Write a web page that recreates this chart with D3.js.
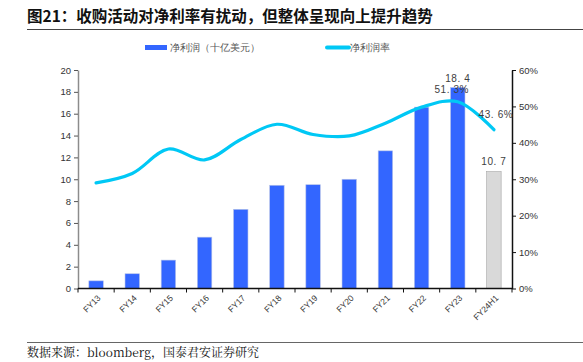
<!DOCTYPE html>
<html>
<head>
<meta charset="utf-8">
<script src="https://cdn.jsdelivr.net/npm/d3@7"></script>
<style>
  body { margin: 0; background: #fff; }
  text { font-family: "Liberation Sans", Arial, sans-serif; }
</style>
</head>
<body>
<script>
// categories and values
const categories = ["FY13", "FY14", "FY15", "FY16", "FY17", "FY18", "FY19", "FY20", "FY21", "FY22", "FY23", "FY24H1"];
const netProfit = [0.7, 1.35, 2.6, 4.7, 7.25, 9.45, 9.5, 10.0, 12.6, 16.6, 18.4, 10.7];
const netMargin = [29.0, 31.6, 38.3, 35.3, 40.9, 45.1, 42.3, 41.9, 45.4, 49.8, 51.3, 43.6];
const leftTicks = [0, 2, 4, 6, 8, 10, 12, 14, 16, 18, 20];
const rightTicks = [0, 10, 20, 30, 40, 50, 60];

const W = 583, H = 362;
const plotLeft = 78, plotRight = 512, plotTop = 70, plotBottom = 288.5;

const svg = d3.select("body").append("svg")
  .attr("width", W)
  .attr("height", H);

// titre + lignes
svg.append("text")
  .attr("x", 27).attr("y", 22)
  .style("font-family", "'Noto Sans CJK SC', sans-serif")
  .style("font-weight", "bold")
  .style("font-size", "15.5px")
  .attr("fill", "#111")
  .text("图21：收购活动对净利率有扰动，但整体呈现向上提升趋势");

svg.append("line")
  .attr("x1", 27).attr("x2", W).attr("y1", 29.5).attr("y2", 29.5)
  .attr("stroke", "#444").attr("stroke-width", 1);

svg.append("line")
  .attr("x1", 27).attr("x2", W).attr("y1", 342.5).attr("y2", 342.5)
  .attr("stroke", "#666").attr("stroke-width", 1);

svg.append("text")
  .attr("x", 27).attr("y", 357)
  .style("font-family", "'Noto Serif CJK SC', 'Liberation Serif', 'Noto Sans CJK SC', serif")
  .style("font-size", "12px")
  .attr("fill", "#111")
  .text("数据来源：bloomberg，国泰君安证券研究");

// scales
const xc = d3.scaleBand().domain(categories).range([plotLeft, plotRight]);
const yL = d3.scaleLinear().domain([0, 20]).range([plotBottom, plotTop]);
const yR = d3.scaleLinear().domain([0, 60]).range([plotBottom, plotTop]);
const cx = d => xc(d) + xc.bandwidth() / 2;
const barW = xc.bandwidth() * 0.4;

// bars
svg.append("g").selectAll("rect")
  .data(categories)
  .join("rect")
  .attr("x", d => cx(d) - barW / 2)
  .attr("width", barW)
  .attr("y", (d, i) => yL(netProfit[i]))
  .attr("height", (d, i) => plotBottom - yL(netProfit[i]))
  .attr("fill", (d, i) => i === categories.length - 1 ? "#d9d9d9" : "#3366ff")
  .attr("stroke", (d, i) => i === categories.length - 1 ? "#a6a6a6" : "#b8c4e8")
  .attr("stroke-width", 0.6);

// line
const line = d3.line()
  .x((d, i) => cx(categories[i]))
  .y(d => yR(d))
  .curve(d3.curveCatmullRom.alpha(0.5));

svg.append("path")
  .datum(netMargin)
  .attr("d", line)
  .attr("fill", "none")
  .attr("stroke", "#00c8f5")
  .attr("stroke-width", 3.2)
  .attr("stroke-linecap", "round");

// axes
const gL = svg.append("g").attr("transform", `translate(${plotLeft},0)`)
  .call(d3.axisLeft(yL).tickValues(leftTicks).tickSize(4).tickSizeOuter(0).tickPadding(3));
gL.select(".domain").attr("stroke", "#8c8c8c").attr("stroke-width", 1.5);
gL.selectAll(".tick line").attr("stroke", "#555");
gL.selectAll("text").style("font-size", "9.5px").attr("fill", "#333");

const gR = svg.append("g").attr("transform", `translate(${plotRight},0)`)
  .call(d3.axisRight(yR).tickValues(rightTicks).tickFormat(d => d + "%").tickSize(4).tickSizeOuter(0).tickPadding(3));
gR.select(".domain").attr("stroke", "#111").attr("stroke-width", 1.5);
gR.selectAll(".tick line").attr("stroke", "#111");
gR.selectAll("text").style("font-size", "9.5px").attr("fill", "#333");

// x axis, ticks between categories
const gX = svg.append("g").attr("transform", `translate(0,${plotBottom})`);
gX.append("line").attr("x1", plotLeft).attr("x2", plotRight)
  .attr("stroke", "#111").attr("stroke-width", 1.5);
const bounds = categories.map(d => xc(d)).concat([plotRight]);
gX.selectAll(".tk").data(bounds).join("line")
  .attr("x1", d => d).attr("x2", d => d)
  .attr("y1", 0).attr("y2", 4)
  .attr("stroke", "#111").attr("stroke-width", 1);
gX.selectAll(".lbl").data(categories).join("text")
  .attr("transform", d => `translate(${cx(d) + 3},${8}) rotate(-45)`)
  .attr("text-anchor", "end")
  .attr("dy", "0.35em")
  .style("font-size", "8.5px")
  .attr("fill", "#333")
  .text(d => d);

// data labels
const lab = svg.append("g").style("font-size", "10px").attr("fill", "#404040").style("letter-spacing", "0.6px");
const iLast = categories.length - 1, i23 = categories.indexOf("FY23");
const fmt = v => v.toFixed(1).replace(".", ". ");
lab.append("text").attr("x", cx(categories[i23])).attr("y", yL(netProfit[i23]) - 5)
  .attr("text-anchor", "middle").text(fmt(netProfit[i23]));
lab.append("text").attr("x", cx(categories[iLast])).attr("y", yL(netProfit[iLast]) - 7)
  .attr("text-anchor", "middle").text(fmt(netProfit[iLast]));
lab.append("text").attr("x", cx(categories[i23]) - 6).attr("y", yR(netMargin[i23]) - 9)
  .attr("text-anchor", "middle").text(fmt(netMargin[i23]) + "%");
lab.append("text").attr("x", cx(categories[iLast]) + 2).attr("y", yR(netMargin[iLast]) - 12)
  .attr("text-anchor", "middle").text(fmt(netMargin[iLast]) + "%");

// legend
const lg = svg.append("g").style("font-family", "'Noto Sans CJK SC', sans-serif")
  .style("font-size", "9.5px").attr("fill", "#555");
lg.append("rect").attr("x", 145).attr("y", 45).attr("width", 22).attr("height", 5).attr("fill", "#3366ff");
lg.append("text").attr("x", 170).attr("y", 51).text("净利润（十亿美元）");
lg.append("line").attr("x1", 327).attr("x2", 349).attr("y1", 47.5).attr("y2", 47.5)
  .attr("stroke", "#00c8f5").attr("stroke-width", 4).attr("stroke-linecap", "round");
lg.append("text").attr("x", 350).attr("y", 51).text("净利润率");
</script>
</body>
</html>
